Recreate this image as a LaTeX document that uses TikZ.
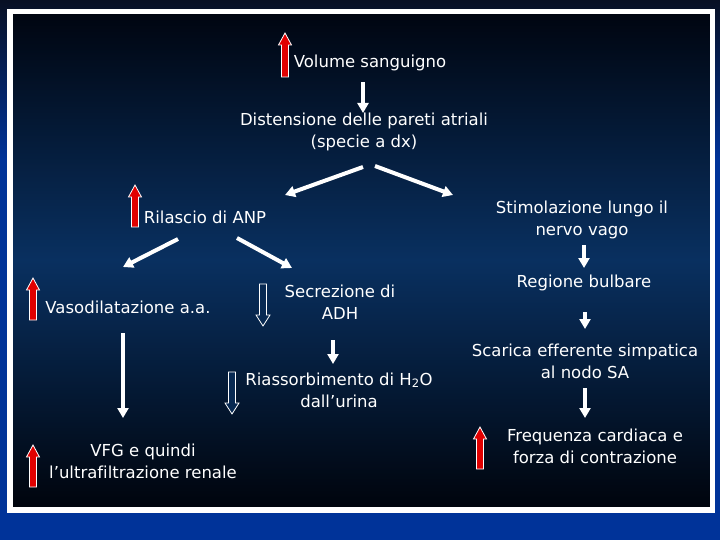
\documentclass[tikz,border=0pt]{standalone}
\usepackage{fontspec}
\setmainfont{DejaVu Sans}[Ligatures={NoCommon}]
\usetikzlibrary{arrows.meta}
\definecolor{outtop}{RGB}{8,16,36}
\definecolor{outblue}{RGB}{0,51,153}
\definecolor{intop}{RGB}{0,5,16}
\definecolor{inmid}{RGB}{9,48,96}
\definecolor{inbot}{RGB}{0,4,12}
\definecolor{redarr}{RGB}{225,0,0}
\newcommand\blockup[4]{%
  \draw[#1] (#2-3.5,#4) -- (#2-3.5,#3+12) -- (#2-6.5,#3+12) -- (#2,#3) -- (#2+6.5,#3+12) -- (#2+3.5,#3+12) -- (#2+3.5,#4) -- cycle;}
\newcommand\blockdown[4]{%
  \draw[#1] (#2-3.5,#3) -- (#2-3.5,#4-11) -- (#2-7,#4-11) -- (#2,#4) -- (#2+7,#4-11) -- (#2+3.5,#4-11) -- (#2+3.5,#3) -- cycle;}
\tikzset{
  txt/.style={text=white, font=\fontsize{16.5}{22}\selectfont, align=center, inner sep=0pt},
  warrow/.style={draw=white, line width=4pt, -{Triangle[width=11pt,length=10pt]}},
  redbox/.style={fill=redarr, draw=white, line width=0.8pt},
  hollow/.style={fill=inmid!85!black, draw=white, line width=0.8pt},
}
\begin{document}
\begin{tikzpicture}[x=1pt,y=-1pt]
\useasboundingbox (0,0) rectangle (720,540);
% backgrounds
\shade[top color=outtop, bottom color=outblue] (0,0) rectangle (720,160);
\fill[outblue] (0,159.5) rectangle (720,540);
\shade[top color=intop, bottom color=inmid] (10,11.5) rectangle (712.5,260);
\shade[top color=inmid, bottom color=inbot] (10,259.5) rectangle (712.5,510);
\draw[white, line width=5.5pt] (10,11.5) rectangle (712.5,510);
% texts
\node[txt] (vol) at (370,63) {Volume sanguigno};
\node[txt] (dist) at (364,132) {Distensione delle pareti atriali\\(specie a dx)};
\node[txt] (anp) at (205,217) {Rilascio di ANP};
\node[txt] (stim) at (582,219.5) {Stimolazione lungo il\\nervo vago};
\node[txt] (vaso) at (128,307) {Vasodilatazione a.a.};
\node[txt] (adh) at (340,302) {Secrezione di\\ADH};
\node[txt] (bulb) at (584,283) {Regione bulbare};
\node[txt] (rias) at (339,390) {Riassorbimento di H\textsubscript{2}O\\dall’urina};
\node[txt] (scar) at (585,361) {Scarica efferente simpatica\\al nodo SA};
\node[txt] (vfg) at (143,461.5) {VFG e quindi\\l’ultrafiltrazione renale};
\node[txt] (freq) at (595,446) {Frequenza cardiaca e\\forza di contrazione};
% connector coordinates
\coordinate (a1) at (363,82);  \coordinate (a2) at (363,113);
\coordinate (b1) at (363,167); \coordinate (b2) at (285,195);
\coordinate (c1) at (375,166); \coordinate (c2) at (453,195);
\coordinate (d1) at (178,239); \coordinate (d2) at (123,267);
\coordinate (e1) at (237,238); \coordinate (e2) at (292,268);
\coordinate (f1) at (584,245); \coordinate (f2) at (584,268);
\coordinate (g1) at (585,312); \coordinate (g2) at (585,329);
\coordinate (h1) at (585,388); \coordinate (h2) at (585,418);
\coordinate (i1) at (123,333); \coordinate (i2) at (123,418);
\coordinate (j1) at (333,340); \coordinate (j2) at (333,364);
\foreach \s in {a,b,c,d,e,f,g,h,i,j} \draw[warrow] (\s1) -- (\s2);
% red up arrows
\blockup{redbox}{285}{33}{77}
\blockup{redbox}{135}{185}{227}
\blockup{redbox}{33}{278}{320}
\blockup{redbox}{33}{445}{487}
\blockup{redbox}{480}{427}{469}
% hollow down arrows
\blockdown{hollow}{263}{284}{326}
\blockdown{hollow}{232}{372}{414}
\end{tikzpicture}
\end{document}
